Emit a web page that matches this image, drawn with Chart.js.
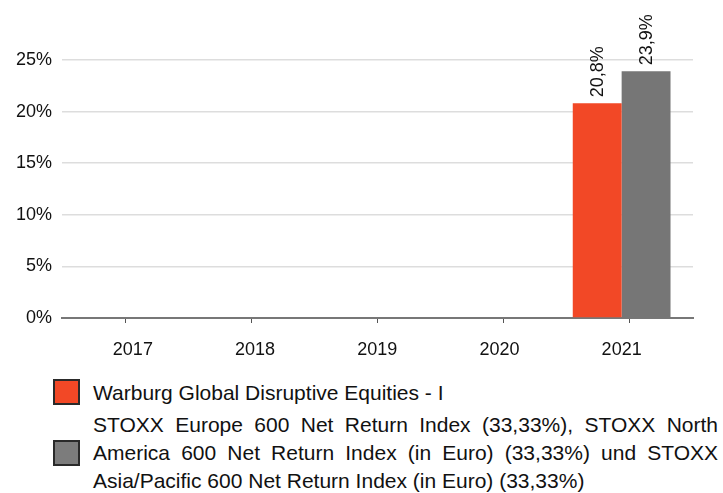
<!DOCTYPE html>
<html>
<head>
<meta charset="utf-8">
<script src="https://cdn.jsdelivr.net/npm/chart.js@4"></script>
<style>
  body { margin: 0; background: #fff; }
  #wrap { position: relative; width: 723px; height: 493px; }
  #chartBox { position: absolute; left: 0; top: 0; width: 723px; height: 360px; }
  .legend { position: absolute; left: 0; top: 0; font-family: "Liberation Sans", Arial, sans-serif; font-size: 21px; color: #111; }
  .box { position: absolute; width: 23px; height: 22px; border: 2px solid #2a2a2a; }
  .txt { position: absolute; left: 93px; width: 625px; line-height: 28px; white-space: nowrap; }
  .txt div.j { text-align: justify; text-align-last: justify; }
</style>
</head>
<body>
<div id="wrap">
  <div id="chartBox"><canvas id="myBarChart" width="723" height="360"></canvas></div>
  <div class="legend" id="legend"></div>
</div>
<script>
// chart data
var years = ['2017', '2018', '2019', '2020', '2021'];
var fundName = 'Warburg Global Disruptive Equities - I';
var benchLines = [
    'STOXX Europe 600 Net Return Index (33,33%), STOXX North',
    'America 600 Net Return Index (in Euro) (33,33%) und STOXX',
    'Asia/Pacific 600 Net Return Index (in Euro) (33,33%)'
];
var benchName = benchLines.join(' ');
var fundValues = [null, null, null, null, 20.8];
var benchValues = [null, null, null, null, 23.9];
var fundColor = '#f24826';
var benchColor = '#767676';

document.addEventListener("DOMContentLoaded", function () {
    var ctx = document.getElementById('myBarChart').getContext('2d');
    var fontFam = '"Liberation Sans", Arial, sans-serif';

    // draws the rotated value labels above the bars
    var valueLabels = {
        id: 'valueLabels',
        afterDatasetsDraw: function (chart) {
            var c = chart.ctx;
            chart.data.datasets.forEach(function (ds, i) {
                chart.getDatasetMeta(i).data.forEach(function (bar, j) {
                    var v = ds.data[j].y;
                    if (v === null || v === undefined) return;
                    c.save();
                    c.translate(bar.x, bar.y - 6);
                    c.rotate(-Math.PI / 2);
                    c.font = '18px ' + fontFam;
                    c.fillStyle = '#111';
                    c.textAlign = 'left';
                    c.textBaseline = 'middle';
                    c.fillText(v.toFixed(1).replace('.', ',') + '%', 0, 1);
                    c.restore();
                });
            });
        }
    };

    function toPoints(arr) {
        return arr.map(function (v, i) { return { x: i, y: v }; });
    }

    var data = {
        datasets: [{
            label: fundName,
            data: toPoints(fundValues),
            xAxisID: 'x',
            backgroundColor: fundColor,
            barPercentage: 1,
            categoryPercentage: 0.8
        }, {
            label: benchName,
            data: toPoints(benchValues),
            xAxisID: 'x',
            backgroundColor: benchColor,
            barPercentage: 1,
            categoryPercentage: 0.8
        }]
    };

    var options = {
        responsive: false,
        maintainAspectRatio: false,
        animation: false,
        layout: { padding: { top: 8.4, right: 30, left: 0, bottom: 0 } },
        plugins: {
            legend: { display: false },
            tooltip: { enabled: false }
        },
        scales: {
            // axis line and tick marks
            xt: {
                type: 'category',
                labels: years,
                position: 'bottom',
                weight: 0,
                offset: true,
                grid: { offset: false, drawOnChartArea: false, drawTicks: true, tickLength: 5, color: '#555' },
                border: { display: true, color: '#777', width: 2 },
                ticks: { display: false },
                afterFit: function (scale) { scale.height = 5; }
            },
            // bars and year labels
            x: {
                type: 'linear',
                position: 'bottom',
                weight: 1,
                offset: false,
                min: -0.58,
                max: 4.584,
                grid: { display: false, offset: false },
                border: { display: false },
                ticks: {
                    autoSkip: false,
                    maxRotation: 0,
                    padding: 8,
                    color: '#111',
                    font: { size: 18, family: fontFam },
                    callback: function (v) { return years[v] || ''; }
                },
                afterBuildTicks: function (scale) {
                    scale.ticks = years.map(function (y, i) { return { value: i }; });
                },
                afterFit: function (scale) { scale.height = 37; }
            },
            y: {
                min: 0,
                max: 30,
                ticks: {
                    stepSize: 5,
                    padding: 10,
                    color: '#111',
                    font: { size: 18, family: fontFam },
                    callback: function (v) { return v >= 30 ? '' : v + '%'; }
                },
                grid: {
                    drawTicks: false,
                    color: function (c) { return c.tick && c.tick.value >= 30 ? 'rgba(0,0,0,0)' : '#dddddd'; },
                    lineWidth: 1.5
                },
                border: { display: false },
                afterFit: function (scale) {
                    scale.width = 62;
                    scale.paddingTop = 0;
                    scale.paddingBottom = 0;
                }
            }
        }
    };

    new Chart(ctx, { type: 'bar', data: data, options: options, plugins: [valueLabels] });

    // legend below the chart
    var lg = document.getElementById('legend');
    var benchHtml = benchLines.map(function (l, i) {
        return '<div class="' + (i < benchLines.length - 1 ? 'j' : '') + '">' + l + '</div>';
    }).join('');
    lg.innerHTML =
        '<div class="box" style="left:53px;top:379px;background:' + fundColor + '"></div>' +
        '<div class="txt" style="top:379px;">' + fundName + '</div>' +
        '<div class="box" style="left:53px;top:440px;background:#7c7c7c"></div>' +
        '<div class="txt" style="top:411px;">' + benchHtml + '</div>';
});
</script>
</body>
</html>
